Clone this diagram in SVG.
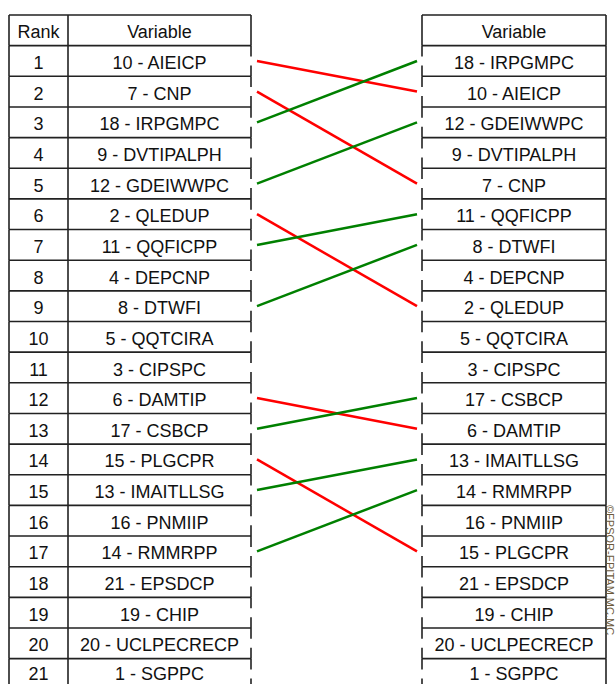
<svg xmlns="http://www.w3.org/2000/svg" width="616" height="684" viewBox="0 0 616 684">
<style>
.b{stroke:#222;stroke-width:1.6;fill:none}
.t{font-family:"Liberation Sans",Arial,sans-serif;font-size:18px;text-anchor:middle;fill:#111}
.r{stroke:#ff0000;stroke-width:2.5;fill:none}
.g{stroke:#008000;stroke-width:2.5;fill:none}
.w{font-family:"Liberation Sans",Arial,sans-serif;font-size:11px;fill:#6d5a3c}
</style>
<rect width="616" height="684" fill="#fff"/>
<g id="left-table">
<g id="L0"><path class="b" d="M9 15H251M9 15V45.65M68 15V45.65M251 15V45.65"/><text class="t" x="38.5" y="38.3">Rank</text><text class="t" x="159.5" y="38.3">Variable</text></g>
<g id="L1"><path class="b" d="M9 45.65H251M9 45.65V76.3M68 45.65V76.3M251 45.65V56.5M251 65.5V76.3"/><text class="t" x="38.5" y="69">1</text><text class="t" x="159.5" y="69">10 - AIEICP</text></g>
<g id="L2"><path class="b" d="M9 76.3H251M9 76.3V106.95M68 76.3V106.95M251 76.3V87.1M251 96.1V106.95"/><text class="t" x="38.5" y="99.6">2</text><text class="t" x="159.5" y="99.6">7 - CNP</text></g>
<g id="L3"><path class="b" d="M9 106.95H251M9 106.95V137.6M68 106.95V137.6M251 106.95V117.8M251 126.8V137.6"/><text class="t" x="38.5" y="130.3">3</text><text class="t" x="159.5" y="130.3">18 - IRPGMPC</text></g>
<g id="L4"><path class="b" d="M9 137.6H251M9 137.6V168.25M68 137.6V168.25M251 137.6V148.4M251 157.4V168.25"/><text class="t" x="38.5" y="160.9">4</text><text class="t" x="159.5" y="160.9">9 - DVTIPALPH</text></g>
<g id="L5"><path class="b" d="M9 168.25H251M9 168.25V198.9M68 168.25V198.9M251 168.25V179.1M251 188.1V198.9"/><text class="t" x="38.5" y="191.6">5</text><text class="t" x="159.5" y="191.6">12 - GDEIWWPC</text></g>
<g id="L6"><path class="b" d="M9 198.9H251M9 198.9V229.55M68 198.9V229.55M251 198.9V209.7M251 218.7V229.55"/><text class="t" x="38.5" y="222.2">6</text><text class="t" x="159.5" y="222.2">2 - QLEDUP</text></g>
<g id="L7"><path class="b" d="M9 229.55H251M9 229.55V260.2M68 229.55V260.2M251 229.55V240.4M251 249.4V260.2"/><text class="t" x="38.5" y="252.9">7</text><text class="t" x="159.5" y="252.9">11 - QQFICPP</text></g>
<g id="L8"><path class="b" d="M9 260.2H251M9 260.2V290.85M68 260.2V290.85M251 260.2V271M251 280V290.85"/><text class="t" x="38.5" y="283.5">8</text><text class="t" x="159.5" y="283.5">4 - DEPCNP</text></g>
<g id="L9"><path class="b" d="M9 290.85H251M9 290.85V321.5M68 290.85V321.5M251 290.85V301.7M251 310.7V321.5"/><text class="t" x="38.5" y="314.2">9</text><text class="t" x="159.5" y="314.2">8 - DTWFI</text></g>
<g id="L10"><path class="b" d="M9 321.5H251M9 321.5V352.15M68 321.5V352.15M251 321.5V332.3M251 341.3V352.15"/><text class="t" x="38.5" y="344.8">10</text><text class="t" x="159.5" y="344.8">5 - QQTCIRA</text></g>
<g id="L11"><path class="b" d="M9 352.15H251M9 352.15V382.8M68 352.15V382.8M251 352.15V363M251 372V382.8"/><text class="t" x="38.5" y="375.5">11</text><text class="t" x="159.5" y="375.5">3 - CIPSPC</text></g>
<g id="L12"><path class="b" d="M9 382.8H251M9 382.8V413.45M68 382.8V413.45M251 382.8V393.6M251 402.6V413.45"/><text class="t" x="38.5" y="406.1">12</text><text class="t" x="159.5" y="406.1">6 - DAMTIP</text></g>
<g id="L13"><path class="b" d="M9 413.45H251M9 413.45V444.1M68 413.45V444.1M251 413.45V424.3M251 433.3V444.1"/><text class="t" x="38.5" y="436.8">13</text><text class="t" x="159.5" y="436.8">17 - CSBCP</text></g>
<g id="L14"><path class="b" d="M9 444.1H251M9 444.1V474.75M68 444.1V474.75M251 444.1V454.9M251 463.9V474.75"/><text class="t" x="38.5" y="467.4">14</text><text class="t" x="159.5" y="467.4">15 - PLGCPR</text></g>
<g id="L15"><path class="b" d="M9 474.75H251M9 474.75V505.4M68 474.75V505.4M251 474.75V485.6M251 494.6V505.4"/><text class="t" x="38.5" y="498.1">15</text><text class="t" x="159.5" y="498.1">13 - IMAITLLSG</text></g>
<g id="L16"><path class="b" d="M9 505.4H251M9 505.4V536.05M68 505.4V536.05M251 505.4V516.2M251 525.2V536.05"/><text class="t" x="38.5" y="528.7">16</text><text class="t" x="159.5" y="528.7">16 - PNMIIP</text></g>
<g id="L17"><path class="b" d="M9 536.05H251M9 536.05V566.7M68 536.05V566.7M251 536.05V546.9M251 555.9V566.7"/><text class="t" x="38.5" y="559.4">17</text><text class="t" x="159.5" y="559.4">14 - RMMRPP</text></g>
<g id="L18"><path class="b" d="M9 566.7H251M9 566.7V597.35M68 566.7V597.35M251 566.7V577.5M251 586.5V597.35"/><text class="t" x="38.5" y="590">18</text><text class="t" x="159.5" y="590">21 - EPSDCP</text></g>
<g id="L19"><path class="b" d="M9 597.35H251M9 597.35V628M68 597.35V628M251 597.35V608.2M251 617.2V628"/><text class="t" x="38.5" y="620.7">19</text><text class="t" x="159.5" y="620.7">19 - CHIP</text></g>
<g id="L20"><path class="b" d="M9 628H251M9 628V658.65M68 628V658.65M251 628V638.8M251 647.8V658.65"/><text class="t" x="38.5" y="651.3">20</text><text class="t" x="159.5" y="651.3">20 - UCLPECRECP</text></g>
<g id="L21"><path class="b" d="M9 658.65H251M9 658.65V689.3M68 658.65V689.3M251 658.65V669.5M251 678.5V689.3"/><text class="t" x="38.5" y="680">21</text><text class="t" x="159.5" y="680">1 - SGPPC</text></g>
</g>
<g id="right-table">
<g id="R0"><path class="b" d="M422 15H606M606 15V45.65M422 15V45.65"/><text class="t" x="514" y="38.3">Variable</text></g>
<g id="R1"><path class="b" d="M422 45.65H606M606 45.65V76.3M422 45.65V56.5M422 65.5V76.3"/><text class="t" x="514" y="69">18 - IRPGMPC</text></g>
<g id="R2"><path class="b" d="M422 76.3H606M606 76.3V106.95M422 76.3V87.1M422 96.1V106.95"/><text class="t" x="514" y="99.6">10 - AIEICP</text></g>
<g id="R3"><path class="b" d="M422 106.95H606M606 106.95V137.6M422 106.95V117.8M422 126.8V137.6"/><text class="t" x="514" y="130.3">12 - GDEIWWPC</text></g>
<g id="R4"><path class="b" d="M422 137.6H606M606 137.6V168.25M422 137.6V148.4M422 157.4V168.25"/><text class="t" x="514" y="160.9">9 - DVTIPALPH</text></g>
<g id="R5"><path class="b" d="M422 168.25H606M606 168.25V198.9M422 168.25V179.1M422 188.1V198.9"/><text class="t" x="514" y="191.6">7 - CNP</text></g>
<g id="R6"><path class="b" d="M422 198.9H606M606 198.9V229.55M422 198.9V209.7M422 218.7V229.55"/><text class="t" x="514" y="222.2">11 - QQFICPP</text></g>
<g id="R7"><path class="b" d="M422 229.55H606M606 229.55V260.2M422 229.55V240.4M422 249.4V260.2"/><text class="t" x="514" y="252.9">8 - DTWFI</text></g>
<g id="R8"><path class="b" d="M422 260.2H606M606 260.2V290.85M422 260.2V271M422 280V290.85"/><text class="t" x="514" y="283.5">4 - DEPCNP</text></g>
<g id="R9"><path class="b" d="M422 290.85H606M606 290.85V321.5M422 290.85V301.7M422 310.7V321.5"/><text class="t" x="514" y="314.2">2 - QLEDUP</text></g>
<g id="R10"><path class="b" d="M422 321.5H606M606 321.5V352.15M422 321.5V332.3M422 341.3V352.15"/><text class="t" x="514" y="344.8">5 - QQTCIRA</text></g>
<g id="R11"><path class="b" d="M422 352.15H606M606 352.15V382.8M422 352.15V363M422 372V382.8"/><text class="t" x="514" y="375.5">3 - CIPSPC</text></g>
<g id="R12"><path class="b" d="M422 382.8H606M606 382.8V413.45M422 382.8V393.6M422 402.6V413.45"/><text class="t" x="514" y="406.1">17 - CSBCP</text></g>
<g id="R13"><path class="b" d="M422 413.45H606M606 413.45V444.1M422 413.45V424.3M422 433.3V444.1"/><text class="t" x="514" y="436.8">6 - DAMTIP</text></g>
<g id="R14"><path class="b" d="M422 444.1H606M606 444.1V474.75M422 444.1V454.9M422 463.9V474.75"/><text class="t" x="514" y="467.4">13 - IMAITLLSG</text></g>
<g id="R15"><path class="b" d="M422 474.75H606M606 474.75V505.4M422 474.75V485.6M422 494.6V505.4"/><text class="t" x="514" y="498.1">14 - RMMRPP</text></g>
<g id="R16"><path class="b" d="M422 505.4H606M606 505.4V536.05M422 505.4V516.2M422 525.2V536.05"/><text class="t" x="514" y="528.7">16 - PNMIIP</text></g>
<g id="R17"><path class="b" d="M422 536.05H606M606 536.05V566.7M422 536.05V546.9M422 555.9V566.7"/><text class="t" x="514" y="559.4">15 - PLGCPR</text></g>
<g id="R18"><path class="b" d="M422 566.7H606M606 566.7V597.35M422 566.7V577.5M422 586.5V597.35"/><text class="t" x="514" y="590">21 - EPSDCP</text></g>
<g id="R19"><path class="b" d="M422 597.35H606M606 597.35V628M422 597.35V608.2M422 617.2V628"/><text class="t" x="514" y="620.7">19 - CHIP</text></g>
<g id="R20"><path class="b" d="M422 628H606M606 628V658.65M422 628V638.8M422 647.8V658.65"/><text class="t" x="514" y="651.3">20 - UCLPECRECP</text></g>
<g id="R21"><path class="b" d="M422 658.65H606M606 658.65V689.3M422 658.65V669.5M422 678.5V689.3"/><text class="t" x="514" y="680">1 - SGPPC</text></g>
</g>
<g id="connectors">
<line class="r" x1="257" y1="61" x2="417" y2="91.6"/>
<line class="r" x1="257" y1="91.6" x2="417" y2="183.6"/>
<line class="r" x1="257" y1="214.2" x2="417" y2="306.2"/>
<line class="r" x1="257" y1="398.1" x2="417" y2="428.8"/>
<line class="r" x1="257" y1="459.4" x2="417" y2="551.4"/>
<line class="g" x1="257" y1="122.3" x2="417" y2="61"/>
<line class="g" x1="257" y1="183.6" x2="417" y2="122.3"/>
<line class="g" x1="257" y1="244.9" x2="417" y2="214.2"/>
<line class="g" x1="257" y1="306.2" x2="417" y2="244.9"/>
<line class="g" x1="257" y1="428.8" x2="417" y2="398.1"/>
<line class="g" x1="257" y1="490.1" x2="417" y2="459.4"/>
<line class="g" x1="257" y1="551.4" x2="417" y2="490.1"/>
</g>
<text class="w" transform="translate(606,505) rotate(90)">©FPSOR-EPITAM.MC.MC</text>
</svg>
